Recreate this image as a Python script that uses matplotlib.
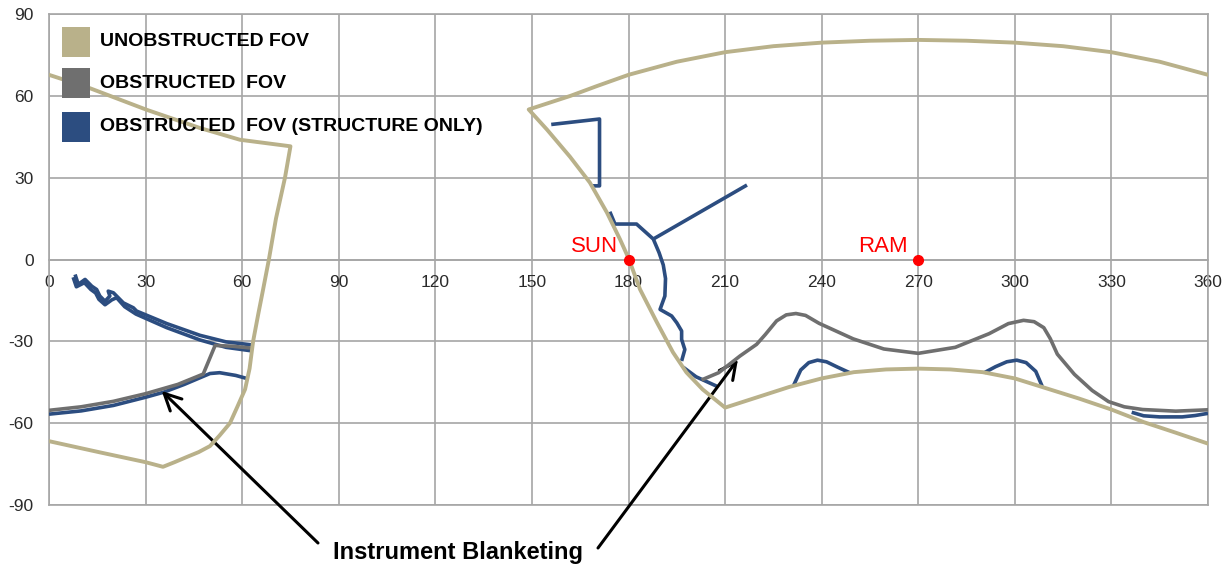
import numpy as np
import matplotlib.pyplot as plt
from matplotlib.patches import Rectangle

plt.rcParams['axes.unicode_minus'] = False

# FOV boundary traces (azimuth deg, elevation deg)
tan_left_x = [0, 12.7, 30.3, 46.9, 59.3, 75, 73.3, 70.5, 68.3, 66.5, 65, 63.4, 62.3,
              60.9, 58.5, 56.2, 53, 50, 46.5, 42.8, 39, 35.4, 30, 15.8, 0]
tan_left_y = [67.7, 62.8, 54.9, 48.2, 43.9, 41.5, 30, 15, 0, -11, -20, -30, -40,
              -47.6, -54, -60, -64.5, -68.4, -70.6, -72.4, -74.3, -76, -74.3, -70.7, -66.6]

tan_right_x = [360, 345, 330, 315, 300, 285, 270, 255, 240, 225, 210, 195, 180,
               170, 162, 149, 154.7, 161.8, 168, 173.3, 177.4, 180, 183.6, 188.8,
               193.8, 198, 203, 210, 220, 230, 240, 250, 260, 270, 280, 290, 300,
               310, 320, 330, 340, 350, 360]
tan_right_y = [67.7, 72.5, 76, 78.2, 79.5, 80.2, 80.5, 80.2, 79.5, 78.2, 76, 72.5,
               67.7, 63.5, 60, 55, 47.6, 37.7, 28.2, 17.2, 7.3, 0.5, -11, -23,
               -34, -41.4, -47.6, -54.3, -50.5, -46.7, -43.6, -41.3, -40.3, -40,
               -40.3, -41.3, -43.6, -47.3, -51, -55, -59.6, -63.5, -67.5]

gray_left_x = [0, 10, 20, 30, 40, 47.9, 51.6, 57, 63]
gray_left_y = [-55.3, -54, -52, -49.2, -45.8, -42, -31.5, -31.8, -32.5]

gray_right_x = [203.2, 208, 214.6, 219.8, 222.5, 226, 229, 232, 235, 239.2, 249.8,
                259.3, 270, 281.5, 292, 298, 302.7, 306, 309, 311, 313.2, 318.5,
                324, 329.1, 334, 339.7, 350, 360]
gray_right_y = [-43.9, -41.5, -35.4, -31.1, -27.5, -22.5, -20.3, -19.8, -20.5, -23.4,
                -29.1, -32.8, -34.4, -32.2, -27.2, -23.5, -22.3, -22.8, -25, -29,
                -34.7, -42.1, -48, -52.1, -54, -55, -55.6, -55.1]

# structure-only traces
blue_low_x = [0, 10, 20, 30, 35.5, 42, 50, 53, 58, 62]
blue_low_y = [-56.7, -55.5, -53.5, -50.5, -48.7, -45.8, -41.8, -41.5, -42.5, -43.8]

blue_a_x = [8.1, 9.1, 11.2, 13.3, 14.8, 15.8, 17.4, 18.9, 18.4, 20, 23.1, 26.2,
            27.2, 36.6, 46.9, 55, 63]
blue_a_y = [-5.5, -9.1, -7.3, -9.8, -11, -13.4, -15.3, -13.4, -11.6, -12.2, -15.9,
            -17.7, -18.9, -23.5, -27.8, -30.2, -31.3]
blue_b_x = [7.5, 8.5, 11, 13, 14.5, 15.5, 17.4, 19.5, 21, 23.5, 27, 36.6, 46.9, 55, 63]
blue_b_y = [-6.5, -10, -8.5, -11, -12.3, -14.6, -16.6, -14.8, -14, -17.3, -20,
            -25, -29.5, -32.2, -33.5]

blue_box_x = [156, 171, 171, 168.5]
blue_box_y = [49.5, 51.5, 27, 27]

blue_edge_x = [174.2, 175.8, 182.5, 187.7, 189.5, 190.8, 191.5, 191.3, 189.8, 193.4,
               195, 196.5, 196.5, 197.5, 196.5]
blue_edge_y = [17.5, 13, 13, 7.5, 2.5, -2, -7, -13.4, -18.3, -20.7, -23.2, -26.2,
               -29.3, -33, -37.2]
blue_branch_x = [187.7, 216.8]
blue_branch_y = [7.5, 27.3]
blue_stub_x = [197, 201, 207.5]
blue_stub_y = [-39.5, -43, -46.5]

bump1_x = [231.3, 233.5, 236, 238.7, 241.5, 245, 248.7]
bump1_y = [-46.1, -40.5, -37.8, -36.9, -37.5, -39.5, -41.5]
bump2_x = [290.5, 294, 297.5, 300.6, 303.5, 306.5, 308.5]
bump2_y = [-41.5, -39.3, -37.5, -36.9, -37.8, -41, -46.5]

blue_right_x = [336.3, 340, 345, 352, 356, 360]
blue_right_y = [-56, -57.3, -57.7, -57.7, -57.2, -56.4]

markers = ["SUN", "RAM"]
marker_x = [180, 270]

legend_labels = ["UNOBSTRUCTED FOV", "OBSTRUCTED  FOV", "OBSTRUCTED  FOV (STRUCTURE ONLY)"]

TAN = '#B9B18A'
GRAY = '#6F6F6F'
BLUE = '#2C4D80'
GRID = '#A6A6A6'

fig = plt.figure(figsize=(12.31, 5.70), dpi=100)
ax = fig.add_axes([49 / 1231, 1 - 505 / 570, 1159 / 1231, 491 / 570])

lw = 2.6
for xs, ys in [(blue_low_x, blue_low_y), (blue_a_x, blue_a_y), (blue_b_x, blue_b_y),
               (blue_box_x, blue_box_y), (blue_edge_x, blue_edge_y),
               (blue_branch_x, blue_branch_y), (blue_stub_x, blue_stub_y),
               (bump1_x, bump1_y), (bump2_x, bump2_y), (blue_right_x, blue_right_y)]:
    ax.plot(xs, ys, color=BLUE, lw=lw, zorder=3, solid_capstyle='butt')
for xs, ys in [(gray_left_x, gray_left_y), (gray_right_x, gray_right_y)]:
    ax.plot(xs, ys, color=GRAY, lw=lw, zorder=4)
for xs, ys in [(tan_left_x, tan_left_y), (tan_right_x, tan_right_y)]:
    ax.plot(xs, ys, color=TAN, lw=2.8, zorder=5)

# sun / ram points
ax.plot(marker_x, [0, 0], 'o', color='#FF0000', ms=7, zorder=6, clip_on=False)
for name, mx in zip(markers, marker_x):
    ax.text(mx - 3.3, 2.6, name, color='#FF0000', fontsize=16, ha='right',
            va='baseline', family='Liberation Sans', zorder=6)

ax.set_xlim(0, 360)
ax.set_ylim(-90, 90)
ax.set_xticks(np.arange(0, 361, 30))
ax.set_yticks(np.arange(-90, 91, 30))
ax.grid(True, color=GRID, lw=1.2, zorder=0)
ax.set_axisbelow(True)
for s in ['top', 'right', 'left']:
    ax.spines[s].set_color(GRID)
    ax.spines[s].set_linewidth(1.2)
ax.spines['bottom'].set_position(('data', 0))
ax.spines['bottom'].set_color(GRID)
ax.spines['bottom'].set_linewidth(1.2)
ax.axhline(-90, color=GRID, lw=1.2, clip_on=False, zorder=1)
ax.tick_params(axis='x', length=0, pad=11, labelsize=12.5, labelcolor='#2a2a2a')
ax.tick_params(axis='y', length=0, pad=11, labelsize=12.5, labelcolor='#2a2a2a')
for lab in ax.get_xticklabels() + ax.get_yticklabels():
    lab.set_family('Liberation Sans')

# legend drawn by hand: big square swatches
rows_y = [0.943, 0.859, 0.770]
for lab, col, yc in zip(legend_labels, [TAN, GRAY, BLUE], rows_y):
    ax.add_patch(Rectangle((0.0112, yc - 0.031), 0.0242, 0.062, transform=ax.transAxes,
                           facecolor=col, edgecolor='none', zorder=8))
    ax.text(0.044, yc, lab, transform=ax.transAxes, fontsize=14, fontweight='bold',
            va='center', ha='left', family='Liberation Sans', zorder=8)

# instrument blanketing callout
fig.text(458 / 1231, 1 - 553 / 570, "Instrument Blanketing", fontsize=17,
         fontweight='bold', ha='center', va='center', family='Liberation Sans')
arrow = dict(arrowstyle='->,head_length=0.6,head_width=0.3', lw=2.2, color='black',
             mutation_scale=20, shrinkA=0, shrinkB=0)
ax.annotate('', xy=(35, -48.2), xytext=(318 / 1231, 1 - 543 / 570),
            textcoords='figure fraction', arrowprops=arrow, annotation_clip=False)
ax.annotate('', xy=(214, -36.6), xytext=(598 / 1231, 1 - 548 / 570),
            textcoords='figure fraction', arrowprops=arrow, annotation_clip=False)

plt.savefig("out.png", dpi=100)
